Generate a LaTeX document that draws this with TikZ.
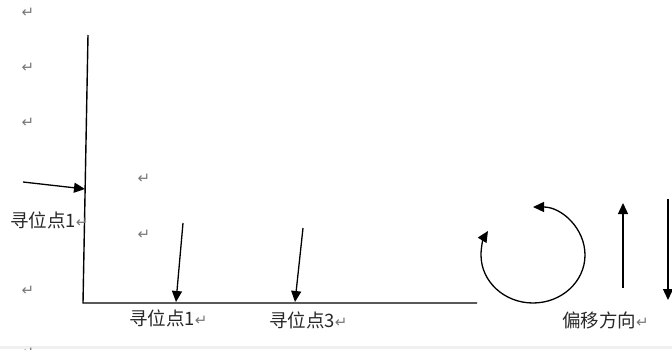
\documentclass[tikz,border=0pt]{standalone}
\usepackage{fontspec}
\newfontfamily\cjk{Noto Sans CJK SC}
\newfontfamily\pmarkfont{DejaVu Sans}
\usetikzlibrary{arrows.meta}
\definecolor{labelgray}{RGB}{40,40,40}
\definecolor{markgray}{RGB}{120,120,120}
\definecolor{stripgray}{RGB}{240,240,240}
\newcommand{\pmark}{{\pmarkfont\fontsize{15pt}{15pt}\selectfont\textcolor{markgray}{↵}}}
\tikzset{
  axisline/.style={line width=1.4pt, black},
  pointer/.style={line width=1.3pt, black, -{Triangle[length=11pt,width=10pt]}},
  spin/.style={line width=1.3pt, black, {Triangle[length=11pt,width=10pt]}-{Triangle[length=11pt,width=10pt]}},
  caption/.style={inner sep=0pt, anchor=west, text=labelgray, font=\cjk\fontsize{18.5pt}{18.5pt}\selectfont},
  parmark/.style={inner sep=0pt}
}
\begin{document}
\begin{tikzpicture}[x=1pt,y=1pt]
  \useasboundingbox (0,0) rectangle (672,349);
  \fill[stripgray] (0,0) rectangle (672,3);

  % paragraph marks down the page
  \node[parmark] (m1) at (28,336) {\pmark};
  \node[parmark] (m2) at (28,281) {\pmark};
  \node[parmark] (m3) at (28,226) {\pmark};
  \node[parmark] (m4) at (144,170) {\pmark};
  \node[parmark] (m5) at (144,114) {\pmark};
  \node[parmark] (m6) at (28,58) {\pmark};
  \node[parmark] (m7) at (28,-4) {\pmark};

  % axes
  \coordinate (ytop) at (88,314);
  \coordinate (origin) at (83,46);
  \coordinate (xend) at (477,46);
  \draw[axisline] (ytop) -- (origin) -- (xend);

  % locating arrows
  \coordinate (a1s) at (23,167);
  \coordinate (a1e) at (85,160);
  \draw[pointer] (a1s) -- (a1e);
  \coordinate (a2s) at (183,126);
  \coordinate (a2e) at (176,47);
  \draw[pointer] (a2s) -- (a2e);
  \coordinate (a3s) at (303,121);
  \coordinate (a3e) at (295,47);
  \draw[pointer] (a3s) -- (a3e);

  \node[caption] (l1) at (10,129) {寻位点1\pmark};
  \node[caption] (l2) at (129,31) {寻位点1\pmark};
  \node[caption] (l3) at (269,29) {寻位点3\pmark};

  % rotation arc
  \coordinate (rtop) at (533,142);
  \draw[spin] (rtop) arc[start angle=90, end angle=-210, x radius=52, y radius=48];

  % shift direction arrows
  \coordinate (us) at (623,61);
  \coordinate (ue) at (623,146);
  \draw[pointer] (us) -- (ue);
  \coordinate (ds) at (668,150);
  \coordinate (de) at (668,49);
  \draw[pointer] (ds) -- (de);

  \node[caption] (l4) at (562,29) {偏移方向\pmark};
\end{tikzpicture}
\end{document}
